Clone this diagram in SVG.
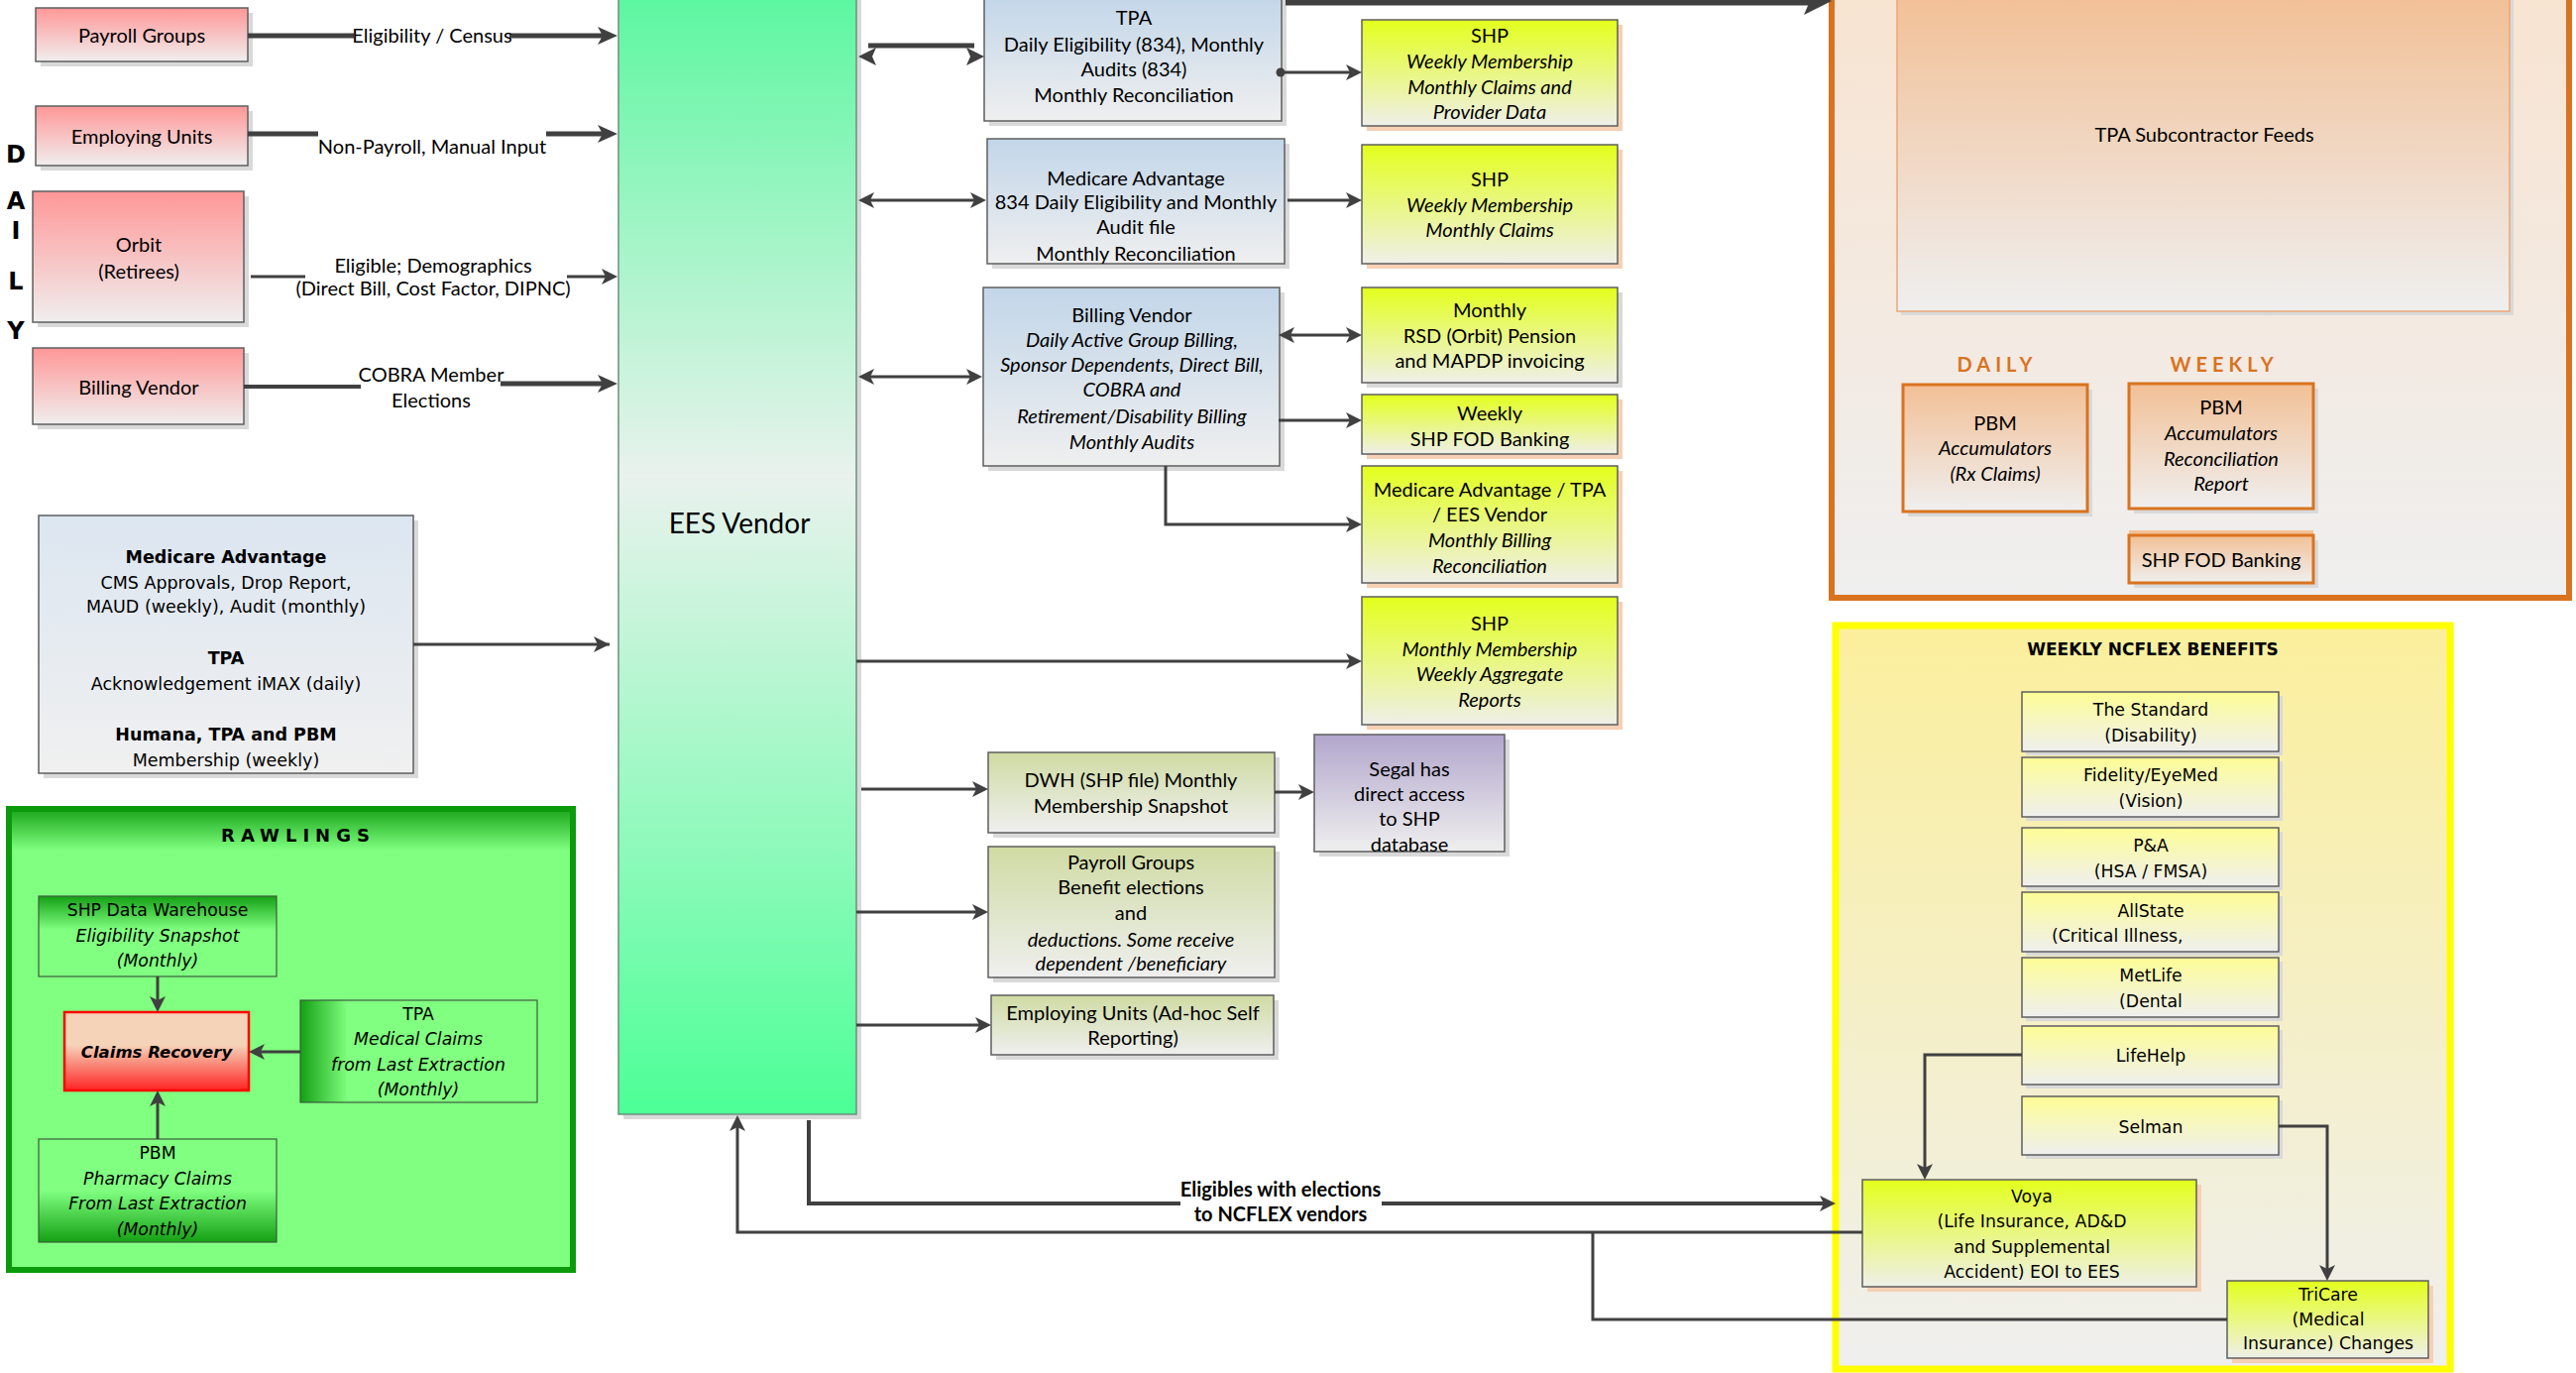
<svg xmlns="http://www.w3.org/2000/svg" width="2599" height="1385" viewBox="0 0 2599 1385">
<defs>
<linearGradient id="gPink" x1="0" y1="0" x2="0" y2="1"><stop offset="0" stop-color="#ff9797"/><stop offset="1" stop-color="#f0eeee"/></linearGradient>
<linearGradient id="gBlue" x1="0" y1="0" x2="0" y2="1"><stop offset="0" stop-color="#c2d6e9"/><stop offset="1" stop-color="#efefef"/></linearGradient>
<linearGradient id="gBlue2" x1="0" y1="0" x2="0" y2="1"><stop offset="0" stop-color="#dce6f1"/><stop offset="1" stop-color="#f0f0f0"/></linearGradient>
<linearGradient id="gYG" x1="0" y1="0" x2="0" y2="1"><stop offset="0" stop-color="#e3ff1c"/><stop offset="1" stop-color="#efefe9"/></linearGradient>
<linearGradient id="gOlive" x1="0" y1="0" x2="0" y2="1"><stop offset="0" stop-color="#cfdba3"/><stop offset="1" stop-color="#efefef"/></linearGradient>
<linearGradient id="gLav" x1="0" y1="0" x2="0" y2="1"><stop offset="0" stop-color="#b2a6cc"/><stop offset="1" stop-color="#efefef"/></linearGradient>
<linearGradient id="gYel" x1="0" y1="0" x2="0" y2="1"><stop offset="0" stop-color="#fdfd96"/><stop offset="1" stop-color="#efefef"/></linearGradient>
<linearGradient id="gPeach" x1="0" y1="0" x2="0" y2="1"><stop offset="0" stop-color="#f2c096"/><stop offset="1" stop-color="#efefef"/></linearGradient>
<linearGradient id="gOrBg" x1="0" y1="0" x2="0" y2="1"><stop offset="0" stop-color="#f8e4d1"/><stop offset="1" stop-color="#efefef"/></linearGradient>
<linearGradient id="gNC" x1="0" y1="0" x2="0" y2="1"><stop offset="0" stop-color="#fbef9c"/><stop offset="1" stop-color="#efefef"/></linearGradient>
<linearGradient id="gEES" x1="0" y1="0" x2="0" y2="1"><stop offset="0" stop-color="#5cf7a0"/><stop offset="0.43" stop-color="#e9f2ed"/><stop offset="1" stop-color="#4cff96"/></linearGradient>
<linearGradient id="gGTop" x1="0" y1="0" x2="0" y2="1"><stop offset="0" stop-color="#14a014"/><stop offset="0.42" stop-color="#80ff80"/><stop offset="1" stop-color="#80ff80"/></linearGradient>
<linearGradient id="gGBot" x1="0" y1="0" x2="0" y2="1"><stop offset="0" stop-color="#80ff80"/><stop offset="0.5" stop-color="#80ff80"/><stop offset="1" stop-color="#14a014"/></linearGradient>
<linearGradient id="gGLeft" x1="0" y1="0" x2="1" y2="0"><stop offset="0" stop-color="#14a014"/><stop offset="0.2" stop-color="#80ff80"/><stop offset="1" stop-color="#80ff80"/></linearGradient>
<linearGradient id="gClaims" x1="0" y1="0" x2="0" y2="1"><stop offset="0" stop-color="#f5d3b8"/><stop offset="0.42" stop-color="#f5d3b8"/><stop offset="1" stop-color="#ff2424"/></linearGradient>
<linearGradient id="gRaw" x1="0" y1="0" x2="0" y2="1"><stop offset="0" stop-color="#1aa51a"/><stop offset="0.09" stop-color="#80ff80"/><stop offset="1" stop-color="#80ff80"/></linearGradient>
<marker id="a" viewBox="0 0 20 18" refX="10" refY="9" markerWidth="20" markerHeight="18" markerUnits="userSpaceOnUse" orient="auto-start-reverse"><path d="M0,0 L20,9 L0,18 L5,9 z" fill="#404040"/></marker>
<marker id="s" viewBox="0 0 16 16" refX="8" refY="8" markerWidth="16" markerHeight="16" markerUnits="userSpaceOnUse" orient="auto-start-reverse"><path d="M0,0 L16,8 L0,16 L4,8 z" fill="#404040"/></marker>
<style>
.b{stroke:#5f5f5f;stroke-width:1.5}
.sh{fill:#d9d9d9}
.sp{fill:#f6d0b4}
.t{font-family:Lato,"Liberation Sans",sans-serif;font-size:20px;fill:#000;text-anchor:middle}
.v{font-family:"DejaVu Sans",Verdana,sans-serif;font-size:17.3px;fill:#000;text-anchor:middle}
.v7{font-size:17.5px}
.dl{font-family:"DejaVu Sans",Verdana,sans-serif;font-weight:bold;font-size:24px;fill:#000;text-anchor:middle}
.i{font-style:italic}
.bd{font-weight:bold}
.ln{stroke:#404040;fill:none;stroke-width:3}
.th{stroke-width:5}
.ma{marker-end:url(#a)}
.ms{marker-end:url(#s)}
.dbl{marker-start:url(#s);marker-end:url(#s)}
</style>
</defs>

<g id="daily-label">
<text class="dl" x="16" y="164">D</text>
<text class="dl" x="16" y="211">A</text>
<text class="dl" x="16" y="241">I</text>
<text class="dl" x="16" y="292">L</text>
<text class="dl" x="16" y="342">Y</text>
</g>

<g id="payroll-groups"><rect class="sh" x="41" y="13" width="214" height="54"/><rect class="b" x="36" y="8" width="214" height="54" fill="url(#gPink)"/><text class="t" x="143" y="43">Payroll Groups</text></g>
<g id="employing-units"><rect class="sh" x="41" y="112" width="214" height="60"/><rect class="b" x="36" y="107" width="214" height="60" fill="url(#gPink)"/><text class="t" x="143" y="145">Employing Units</text></g>
<g id="orbit"><rect class="sh" x="38" y="198" width="213" height="132"/><rect class="b" x="33" y="193" width="213" height="132" fill="url(#gPink)"/><text class="t" x="140" y="254">Orbit</text><text class="t" x="140" y="281">(Retirees)</text></g>
<g id="billing-vendor-left"><rect class="sh" x="38" y="356" width="213" height="77"/><rect class="b" x="33" y="351" width="213" height="77" fill="url(#gPink)"/><text class="t" x="140" y="398">Billing Vendor</text></g>

<g id="ma-left"><rect class="sh" x="44" y="525" width="378" height="260"/><rect class="b" x="39" y="520" width="378" height="260" fill="url(#gBlue2)"/>
<text class="v v7 bd" x="228" y="568">Medicare Advantage</text>
<text class="v v7" x="228" y="594">CMS Approvals, Drop Report,</text>
<text class="v v7" x="228" y="618">MAUD (weekly), Audit (monthly)</text>
<text class="v v7 bd" x="228" y="670">TPA</text>
<text class="v v7" x="228" y="696">Acknowledgement iMAX (daily)</text>
<text class="v v7 bd" x="228" y="747">Humana, TPA and PBM</text>
<text class="v v7" x="228" y="773">Membership (weekly)</text></g>

<g id="rawlings"><rect x="9" y="816" width="569" height="465" fill="url(#gRaw)" stroke="#0b9a0b" stroke-width="6"/>
<text class="v bd" style="font-size:18px;letter-spacing:6px" x="301" y="849">RAWLINGS</text></g>
<g id="shp-dwh"><rect x="39" y="904" width="240" height="81" fill="url(#gGTop)" stroke="#3c5c3c" stroke-width="1.2"/>
<text class="v" x="159" y="924">SHP Data Warehouse</text><text class="v i" x="159" y="950">Eligibility Snapshot</text><text class="v i" x="159" y="975">(Monthly)</text></g>
<g id="claims-recovery"><rect x="65" y="1021" width="186" height="79" fill="url(#gClaims)" stroke="#ff0000" stroke-width="2.5"/><text class="v i bd" style="font-size:16.5px" x="158" y="1067">Claims Recovery</text></g>
<g id="tpa-rawlings"><rect x="303" y="1009" width="239" height="103" fill="url(#gGLeft)" stroke="#3c5c3c" stroke-width="1.2"/>
<text class="v" x="422" y="1029">TPA</text><text class="v i" x="422" y="1054">Medical Claims</text><text class="v i" x="422" y="1080">from Last Extraction</text><text class="v i" x="422" y="1105">(Monthly)</text></g>
<g id="pbm-rawlings"><rect x="39" y="1149" width="240" height="104" fill="url(#gGBot)" stroke="#3c5c3c" stroke-width="1.2"/>
<text class="v" x="159" y="1169">PBM</text><text class="v i" x="159" y="1195">Pharmacy Claims</text><text class="v i" x="159" y="1220">From Last Extraction</text><text class="v i" x="159" y="1246">(Monthly)</text></g>

<g id="ees-vendor"><rect class="sh" x="629" y="0" width="240" height="1129"/><rect x="624" y="-5" width="240" height="1129" fill="url(#gEES)" stroke="#6f8f7f" stroke-width="1.5"/><text class="t" style="font-size:28px" x="746" y="538">EES Vendor</text></g>

<g id="tpa-center"><rect class="sh" x="998" y="0" width="300" height="127"/><rect class="b" x="993" y="-5" width="300" height="127" fill="url(#gBlue)"/>
<text class="t" x="1144" y="25">TPA</text><text class="t" x="1144" y="52">Daily Eligibility (834), Monthly</text><text class="t" x="1144" y="77">Audits (834)</text><text class="t" x="1144" y="103">Monthly Reconciliation</text></g>
<g id="shp-1"><rect class="sp" x="1379" y="25" width="258" height="107"/><rect class="b" x="1374" y="20" width="258" height="107" fill="url(#gYG)"/>
<text class="t" x="1503" y="43">SHP</text><text class="t i" x="1503" y="69">Weekly Membership</text><text class="t i" x="1503" y="95">Monthly Claims and</text><text class="t i" x="1503" y="120">Provider Data</text></g>
<g id="ma-center"><rect class="sh" x="1001" y="145" width="300" height="126"/><rect class="b" x="996" y="140" width="300" height="126" fill="url(#gBlue)"/>
<text class="t" x="1146" y="187">Medicare Advantage</text><text class="t" x="1146" y="211">834 Daily Eligibility and Monthly</text><text class="t" x="1146" y="236">Audit file</text><text class="t" x="1146" y="263">Monthly Reconciliation</text></g>
<g id="shp-2"><rect class="sp" x="1379" y="151" width="258" height="120"/><rect class="b" x="1374" y="146" width="258" height="120" fill="url(#gYG)"/>
<text class="t" x="1503" y="188">SHP</text><text class="t i" x="1503" y="214">Weekly Membership</text><text class="t i" x="1503" y="239">Monthly Claims</text></g>
<g id="billing-vendor-center"><rect class="sh" x="997" y="295" width="299" height="180"/><rect class="b" x="992" y="290" width="299" height="180" fill="url(#gBlue)"/>
<text class="t" x="1142" y="325">Billing Vendor</text><text class="t i" x="1142" y="350">Daily Active Group Billing,</text><text class="t i" x="1142" y="375">Sponsor Dependents, Direct Bill,</text><text class="t i" x="1142" y="400">COBRA and</text><text class="t i" x="1142" y="427">Retirement/Disability Billing</text><text class="t i" x="1142" y="453">Monthly Audits</text></g>
<g id="monthly-rsd"><rect class="sh" x="1379" y="295" width="258" height="96"/><rect class="b" x="1374" y="290" width="258" height="96" fill="url(#gYG)"/>
<text class="t" x="1503" y="320">Monthly</text><text class="t" x="1503" y="346">RSD (Orbit) Pension</text><text class="t" x="1503" y="371">and MAPDP invoicing</text></g>
<g id="weekly-fod"><rect class="sp" x="1379" y="403" width="258" height="60"/><rect class="b" x="1374" y="398" width="258" height="60" fill="url(#gYG)"/>
<text class="t" x="1503" y="424">Weekly</text><text class="t" x="1503" y="450">SHP FOD Banking</text></g>
<g id="ma-tpa-ees"><rect class="sp" x="1379" y="475" width="258" height="118"/><rect class="b" x="1374" y="470" width="258" height="118" fill="url(#gYG)"/>
<text class="t" x="1503" y="501">Medicare Advantage / TPA</text><text class="t" x="1503" y="526">/ EES Vendor</text><text class="t i" x="1503" y="552">Monthly Billing</text><text class="t i" x="1503" y="578">Reconciliation</text></g>
<g id="shp-3"><rect class="sp" x="1379" y="607" width="258" height="129"/><rect class="b" x="1374" y="602" width="258" height="129" fill="url(#gYG)"/>
<text class="t" x="1503" y="636">SHP</text><text class="t i" x="1503" y="662">Monthly Membership</text><text class="t i" x="1503" y="687">Weekly Aggregate</text><text class="t i" x="1503" y="713">Reports</text></g>
<g id="dwh"><rect class="sh" x="1002" y="764" width="289" height="81"/><rect class="b" x="997" y="759" width="289" height="81" fill="url(#gOlive)"/>
<text class="t" x="1141" y="794">DWH (SHP file) Monthly</text><text class="t" x="1141" y="820">Membership Snapshot</text></g>
<g id="segal"><rect class="sh" x="1331" y="746" width="192" height="118"/><rect class="b" x="1326" y="741" width="192" height="118" fill="url(#gLav)"/>
<text class="t" x="1422" y="783">Segal has</text><text class="t" x="1422" y="808">direct access</text><text class="t" x="1422" y="833">to SHP</text><text class="t" x="1422" y="859">database</text></g>
<g id="payroll-benefit"><rect class="sh" x="1002" y="859" width="289" height="132"/><rect class="b" x="997" y="854" width="289" height="132" fill="url(#gOlive)"/>
<text class="t" x="1141" y="877">Payroll Groups</text><text class="t" x="1141" y="902">Benefit elections</text><text class="t" x="1141" y="928">and</text><text class="t i" x="1141" y="955">deductions. Some receive</text><text class="t i" x="1141" y="979">dependent /beneficiary</text></g>
<g id="employing-adhoc"><rect class="sh" x="1005" y="1009" width="285" height="60"/><rect class="b" x="1000" y="1004" width="285" height="60" fill="url(#gOlive)"/>
<text class="t" x="1143" y="1029">Employing Units (Ad-hoc Self</text><text class="t" x="1143" y="1054">Reporting)</text></g>

<g id="tpa-subcontractor-group"><rect x="1848" y="-10" width="744" height="613" fill="url(#gOrBg)" stroke="#d9731f" stroke-width="6"/>
<rect class="sh" x="1918" y="-1" width="618" height="319"/>
<rect x="1914" y="-5" width="618" height="319" fill="url(#gPeach)" stroke="#eba676" stroke-width="1.5"/>
<text class="t" x="2224" y="143">TPA Subcontractor Feeds</text>
<text class="t bd" style="fill:#d9731f;letter-spacing:5px" x="2015" y="375">DAILY</text>
<text class="t bd" style="fill:#d9731f;letter-spacing:5px" x="2244" y="375">WEEKLY</text></g>
<g id="pbm-daily"><rect class="sh" x="1925" y="393" width="186" height="128"/><rect x="1920" y="388" width="186" height="128" fill="url(#gPeach)" stroke="#d9731f" stroke-width="3"/>
<text class="t" x="2013" y="434">PBM</text><text class="t i" x="2013" y="459">Accumulators</text><text class="t i" x="2013" y="485">(Rx Claims)</text></g>
<g id="pbm-weekly"><rect class="sh" x="2153" y="392" width="186" height="126"/><rect x="2148" y="387" width="186" height="126" fill="url(#gPeach)" stroke="#d9731f" stroke-width="3"/>
<text class="t" x="2241" y="418">PBM</text><text class="t i" x="2241" y="444">Accumulators</text><text class="t i" x="2241" y="470">Reconciliation</text><text class="t i" x="2241" y="495">Report</text></g>
<g id="shp-fod-orange"><rect x="2148" y="535" width="186" height="6" fill="#f2c096"/><rect class="sh" x="2153" y="545" width="186" height="48"/><rect x="2148" y="540" width="186" height="48" fill="url(#gPeach)" stroke="#d9731f" stroke-width="3"/>
<text class="t" x="2241" y="572">SHP FOD Banking</text></g>

<g id="ncflex-group"><rect x="1852" y="631" width="620" height="750" fill="url(#gNC)" stroke="#ffff00" stroke-width="7"/>
<text class="v bd" style="font-size:17px" x="2172" y="661">WEEKLY NCFLEX BENEFITS</text></g>
<g id="the-standard"><rect class="sh" x="2044" y="702" width="259" height="60"/><rect class="b" x="2040" y="698" width="259" height="60" fill="url(#gYel)"/><text class="v" x="2170" y="722">The Standard</text><text class="v" x="2170" y="748">(Disability)</text></g>
<g id="fidelity"><rect class="sh" x="2044" y="768" width="259" height="60"/><rect class="b" x="2040" y="764" width="259" height="60" fill="url(#gYel)"/><text class="v" x="2170" y="788">Fidelity/EyeMed</text><text class="v" x="2170" y="814">(Vision)</text></g>
<g id="pa"><rect class="sh" x="2044" y="839" width="259" height="59"/><rect class="b" x="2040" y="835" width="259" height="59" fill="url(#gYel)"/><text class="v" x="2170" y="859">P&amp;A</text><text class="v" x="2170" y="885">(HSA / FMSA)</text></g>
<g id="allstate"><rect class="sh" x="2044" y="904" width="259" height="60"/><rect class="b" x="2040" y="900" width="259" height="60" fill="url(#gYel)"/><text class="v" x="2170" y="925">AllState</text><text class="v" style="text-anchor:start" x="2070" y="950">(Critical Illness,</text></g>
<g id="metlife"><rect class="sh" x="2044" y="970" width="259" height="60"/><rect class="b" x="2040" y="966" width="259" height="60" fill="url(#gYel)"/><text class="v" x="2170" y="990">MetLife</text><text class="v" x="2170" y="1016">(Dental</text></g>
<g id="lifehelp"><rect class="sh" x="2044" y="1039" width="259" height="59"/><rect class="b" x="2040" y="1035" width="259" height="59" fill="url(#gYel)"/><text class="v" x="2170" y="1071">LifeHelp</text></g>
<g id="selman"><rect class="sh" x="2044" y="1110" width="259" height="59"/><rect class="b" x="2040" y="1106" width="259" height="59" fill="url(#gYel)"/><text class="v" x="2170" y="1143">Selman</text></g>
<g id="voya"><rect class="sp" x="1884" y="1195" width="337" height="108"/><rect class="b" x="1879" y="1190" width="337" height="108" fill="url(#gYG)"/>
<text class="v" x="2050" y="1213">Voya</text><text class="v" x="2050" y="1238">(Life Insurance, AD&amp;D</text><text class="v" x="2050" y="1264">and Supplemental</text><text class="v" x="2050" y="1289">Accident) EOI to EES</text></g>
<g id="tricare"><rect class="sp" x="2252" y="1297" width="203" height="78"/><rect class="b" x="2247" y="1292" width="203" height="78" fill="url(#gYG)"/>
<text class="v" x="2349" y="1312">TriCare</text><text class="v" x="2349" y="1337">(Medical</text><text class="v" x="2349" y="1361">Insurance) Changes</text></g>

<g id="connectors">
<line class="ln th" x1="250" y1="36" x2="357" y2="36"/><line class="ln th ma" x1="514" y1="36" x2="613" y2="36"/>
<text class="t" x="436" y="43">Eligibility / Census</text>
<line class="ln th" x1="250" y1="135" x2="321" y2="135"/><line class="ln th ma" x1="551" y1="135" x2="613" y2="135"/>
<text class="t" x="436" y="155">Non-Payroll, Manual Input</text>
<line class="ln" x1="253" y1="279" x2="308" y2="279"/><line class="ln ms" x1="572" y1="279" x2="615" y2="279"/>
<text class="t" x="437" y="275">Eligible; Demographics</text><text class="t" x="437" y="298">(Direct Bill, Cost Factor, DIPNC)</text>
<line class="ln" style="stroke-width:4" x1="246" y1="390" x2="364" y2="390"/><line class="ln th ma" x1="505" y1="387" x2="613" y2="387"/>
<text class="t" x="435" y="385">COBRA Member</text><text class="t" x="435" y="411">Elections</text>
<line class="ln" x1="417" y1="650" x2="615" y2="650"/><path d="M599,642 L615,650 L599,658 L603,650 z" fill="#404040"/>
<line class="ln" x1="159" y1="985" x2="159" y2="1013"/><path d="M151,1005 L159,1021 L167,1005 L159,1009 z" fill="#404040"/>
<line class="ln" x1="303" y1="1061" x2="259" y2="1061"/><path d="M267,1053 L251,1061 L267,1069 L263,1061 z" fill="#404040"/>
<line class="ln" x1="159" y1="1149" x2="159" y2="1108"/><path d="M151,1116 L159,1100 L167,1116 L159,1112 z" fill="#404040"/>

<line class="ln th" x1="876" y1="46" x2="983" y2="46"/>
<path d="M866,57 L884,48 L880,57 L884,66 z" fill="#404040"/><path d="M993,57 L975,48 L979,57 L975,66 z" fill="#404040"/>
<line class="ln" style="stroke-width:7" x1="1297" y1="2" x2="1826" y2="2"/><path d="M1848,1 L1820,-14 L1826,1 L1820,15 z" fill="#404040"/>
<circle cx="1292" cy="73" r="4.5" fill="#404040"/><line class="ln ms" x1="1292" y1="73" x2="1366" y2="73"/>
<line class="ln dbl" x1="874" y1="202" x2="987" y2="202"/>
<line class="ln ms" x1="1299" y1="202" x2="1366" y2="202"/>
<line class="ln dbl" x1="874" y1="380" x2="983" y2="380"/>
<line class="ln dbl" x1="1298" y1="338" x2="1366" y2="338"/>
<line class="ln ms" x1="1290" y1="424" x2="1366" y2="424"/>
<path class="ln ms" d="M1176,470 V529 H1366"/>
<line class="ln ms" x1="864" y1="667" x2="1366" y2="667"/>
<line class="ln ms" x1="869" y1="796" x2="989" y2="796"/>
<line class="ln ms" x1="1286" y1="799" x2="1318" y2="799"/>
<line class="ln ms" x1="864" y1="920" x2="989" y2="920"/>
<line class="ln ms" x1="864" y1="1034" x2="992" y2="1034"/>
<path class="ln ms" d="M2040,1064 H1942 V1182"/>
<path class="ln ms" d="M2299,1136 H2348 V1284"/>
<path class="ln" style="stroke-width:4" d="M816,1130 V1214 H1191"/>
<line class="ln ms" style="stroke-width:4" x1="1394" y1="1214" x2="1844" y2="1214"/>
<text class="t bd" x="1292" y="1207">Eligibles with elections</text><text class="t bd" x="1292" y="1232">to NCFLEX vendors</text>
<path class="ln ms" d="M1879,1243 H744 V1133"/>
<path class="ln" d="M1607,1243 V1331 H2247"/>
</g>
</svg>
